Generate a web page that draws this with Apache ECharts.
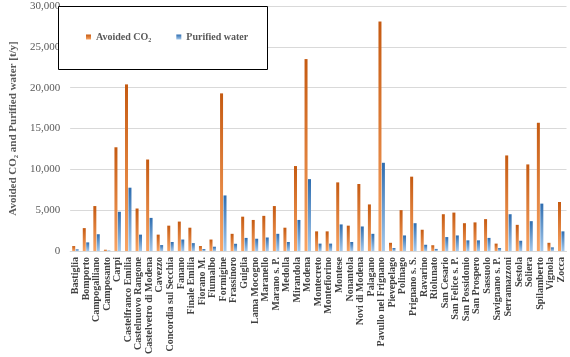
<!DOCTYPE html>
<html>
<head>
<meta charset="utf-8">
<script src="https://cdn.jsdelivr.net/npm/echarts@6/dist/echarts.min.js"></script>
<style>html,body{margin:0;padding:0;background:#fff}#c{width:570px;height:357px}</style>
</head>
<body>
<div id="c"></div>
<script>
const categories = ["Bastiglia","Bomporto","Campogalliano","Camposanto","Carpi","Castelfranco Emilia","Castelnuovo Rangone","Castelvetro di Modena","Cavezzo","Concordia sul Secchia","Fanano","Finale Emilia","Fiorano M.","Fiumalbo","Formigine","Frassinoro","Guiglia","Lama Mocogno","Maranello","Marano s. P.","Medolla","Mirandola","Modena","Montecreto","Montefiorino","Montese","Nonantola","Novi di Modena","Palagano","Pavullo nel Frignano","Pievepelago","Polinago","Prignano s. S.","Ravarino","Riolunato","San Cesario","San Felice s. P.","San Possidonio","San Prospero","Sassuolo","Savignano s. P.","Serramazzoni","Sestola","Soliera","Spilamberto","Vignola","Zocca"];
const avoidedCO2 = [600,2800,5500,150,12700,20400,5200,11200,2000,3100,3600,2850,600,1400,19300,2100,4200,3800,4300,5500,2850,10400,23500,2400,2400,8400,3100,8200,5700,28100,1000,5000,9100,2600,700,4500,4700,3400,3500,3900,900,11700,3200,10600,15700,1000,6000];
const purifiedWater = [200,1050,2050,40,4800,7750,2000,4050,720,1100,1400,960,240,520,6800,880,1600,1500,1650,2100,1100,3800,8800,900,900,3250,1100,3000,2100,10800,360,1900,3400,760,250,1700,1900,1300,1300,1600,360,4500,1250,3650,5800,440,2400];
const yTicks = [0, 5000, 10000, 15000, 20000, 25000, 30000];

const serif = '"Liberation Serif", "Times New Roman", serif';
const chart = echarts.init(document.getElementById('c'), null, {renderer: 'canvas'});
const grad = (a, b) => new echarts.graphic.LinearGradient(0, 0, 0, 1, [{offset: 0, color: a}, {offset: 1, color: b}]);
chart.setOption({
  animation: false,
  backgroundColor: '#ffffff',
  grid: {left: 47, right: 3.5, top: 6, bottom: 102, containLabel: false},
  graphic: [{
    type: 'rect', left: 58, top: 6, z: 100,
    shape: {width: 209, height: 63},
    style: {fill: '#ffffff', stroke: '#000000', lineWidth: 1}
  }],
  legend: {
    left: 86, top: 32, z: 110,
    padding: 0,
    itemWidth: 5, itemHeight: 5, itemGap: 25,
    icon: 'rect',
    textStyle: {fontFamily: serif, fontWeight: 'bold', fontSize: 10, color: '#595959'},
    data: ['Avoided CO\u2082', 'Purified water']
  },
  xAxis: {
    type: 'category',
    data: categories,
    axisTick: {show: false},
    axisLine: {show: true, lineStyle: {color: '#d9d9d9'}},
    axisLabel: {interval: 0, rotate: 90, fontFamily: serif, fontWeight: 'bold', fontSize: 10, color: '#404040', margin: 6}
  },
  yAxis: {
    type: 'value',
    min: yTicks[0], max: yTicks[yTicks.length - 1], interval: 5000,
    name: 'Avoided CO\u2082 and Purified water [t/y]',
    nameLocation: 'middle', nameGap: 35, nameRotate: 90,
    nameTextStyle: {fontFamily: serif, fontWeight: 'bold', fontSize: 11, color: '#595959'},
    axisLine: {show: false}, axisTick: {show: false},
    splitLine: {lineStyle: {color: '#d9d9d9', width: 1}},
    axisLabel: {fontFamily: serif, fontSize: 11, color: '#595959', margin: 10,
      formatter: v => v.toLocaleString('en-US')}
  },
  series: [
    {name: 'Avoided CO\u2082', type: 'bar', data: avoidedCO2, barWidth: 3, barGap: '15%',
     itemStyle: {color: grad('#c55a11', '#f9a464')}},
    {name: 'Purified water', type: 'bar', data: purifiedWater, barWidth: 3,
     itemStyle: {color: grad('#2e6db0', '#a5c9ec')}}
  ]
});
</script>
</body>
</html>
